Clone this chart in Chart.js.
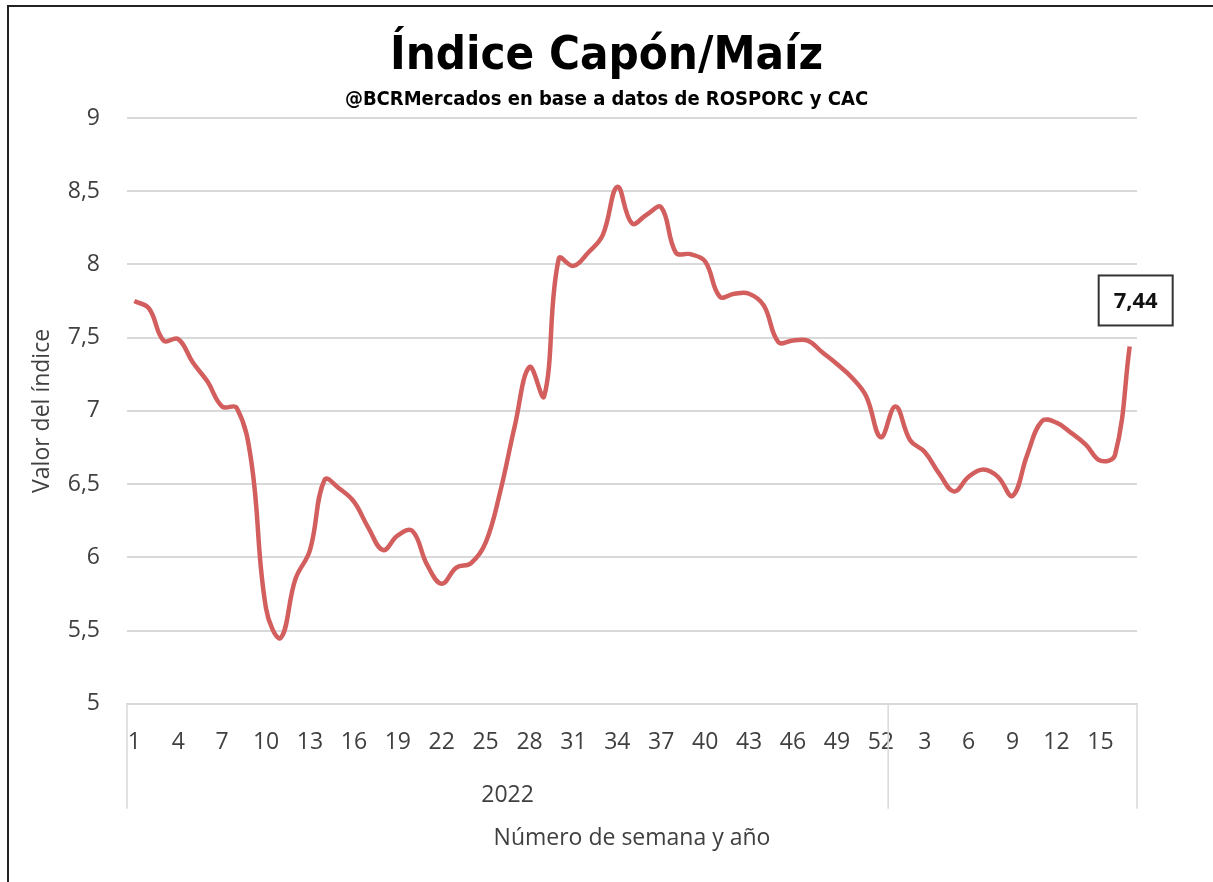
<!DOCTYPE html>
<html>
<head>
<meta charset="utf-8">
<script src="https://cdn.jsdelivr.net/npm/chart.js@4.4.1/dist/chart.umd.min.js"></script>
<style>
  html, body { margin: 0; padding: 0; background: #fff; }
  #wrap { position: relative; width: 1213px; height: 882px; }
  #frame {
    position: absolute; left: 7px; top: 5px; width: 1206px; height: 877px;
    border-left: 2px solid #222; border-top: 2px solid #222;
    box-sizing: border-box; pointer-events: none;
  }
</style>
</head>
<body>
<div id="wrap">
  <canvas id="chart" width="1213" height="882"></canvas>
  <div id="frame"></div>
</div>
<script>
// ============================================
// DATA
// ============================================

const years = ['2022', '2023'];
const weeksPerYear = [52, 17];
const yearLabels = ['2022', ''];

// Índice Capón/Maíz, 2022 semanas 1-52
const values2022 = [
  7.75, 7.70, 7.48, 7.49, 7.33, 7.20, 7.03, 7.02, 6.65, 5.65,
  5.45, 5.85, 6.05, 6.53, 6.47, 6.38, 6.20, 6.05, 6.15, 6.18,
  5.95, 5.82, 5.93, 5.96, 6.10, 6.45, 6.90, 7.30, 7.10, 8.04,
  7.99, 8.08, 8.20, 8.53, 8.28, 8.34, 8.39, 8.08, 8.07, 8.02,
  7.78, 7.80, 7.80, 7.72, 7.47, 7.48, 7.48, 7.40, 7.32, 7.23,
  7.10, 6.82
];

// 2023 semanas 1-17
const values2023 = [
  7.03, 6.80, 6.72, 6.57, 6.45, 6.55, 6.60, 6.55, 6.42, 6.70,
  6.93, 6.92, 6.85, 6.77, 6.66, 6.70, 7.44
];

const yTicks = [5, 5.5, 6, 6.5, 7, 7.5, 8, 8.5, 9];

// ============================================
// CHART
// ============================================

const LINE_COLOR = '#D35E5E';
const TEXT_COLOR = '#404040';
const GRID_COLOR = '#d9d9d9';
const AXIS_FONT = 'Open Sans';
const AXIS_SIZE = 23;
const TITLE_FONT = '"DejaVu Sans Condensed", "Liberation Sans Narrow", "Roboto Condensed", "Arial Narrow", sans-serif';

const weekLabels = [];
weeksPerYear.forEach(n => {
  for (let w = 1; w <= n; w++) weekLabels.push(String(w));
});
const values = values2022.concat(values2023);

const fmt = v => String(v).replace('.', ',');

// year row under the week ticks, like a multi-level category axis
const yearGroups = {
  id: 'yearGroups',
  afterDraw(chart) {
    const { ctx, chartArea } = chart;
    const x = chart.scales.x;
    const top = chartArea.bottom;
    const bottom = top + 105;
    let start = 0;
    const bounds = [chartArea.left];
    weeksPerYear.forEach((n, i) => {
      const end = start + n - 1;
      const right = i === weeksPerYear.length - 1
        ? chartArea.right
        : (x.getPixelForValue(end) + x.getPixelForValue(end + 1)) / 2;
      bounds.push(right);
      start += n;
    });

    ctx.save();
    ctx.strokeStyle = GRID_COLOR;
    ctx.lineWidth = 1.5;
    bounds.forEach(bx => {
      ctx.beginPath();
      ctx.moveTo(bx, top);
      ctx.lineTo(bx, bottom);
      ctx.stroke();
    });
    ctx.fillStyle = TEXT_COLOR;
    ctx.font = AXIS_SIZE + 'px "' + AXIS_FONT + '"';
    ctx.textAlign = 'center';
    ctx.textBaseline = 'middle';
    yearLabels.forEach((lbl, i) => {
      if (!lbl) return;
      ctx.fillText(lbl, (bounds[i] + bounds[i + 1]) / 2, top + 92);
    });
    ctx.restore();
  }
};

// boxed label on the last value
const lastLabel = {
  id: 'lastLabel',
  afterDatasetsDraw(chart) {
    const { ctx } = chart;
    const meta = chart.getDatasetMeta(0);
    const pt = meta.data[meta.data.length - 1];
    const text = fmt(values[values.length - 1]);
    const cx = pt.x + 6;
    const cy = pt.y - 46;
    const w = 74, h = 50;
    ctx.save();
    ctx.fillStyle = '#fff';
    ctx.fillRect(cx - w / 2, cy - h / 2, w, h);
    ctx.strokeStyle = '#333';
    ctx.lineWidth = 2;
    ctx.strokeRect(cx - w / 2, cy - h / 2, w, h);
    ctx.fillStyle = '#111';
    ctx.font = 'bold 22px "' + AXIS_FONT + '"';
    ctx.textAlign = 'center';
    ctx.textBaseline = 'middle';
    ctx.fillText(text, cx, cy + 1);
    ctx.restore();
  }
};

const chart = new Chart(document.getElementById('chart'), {
  type: 'line',
  data: {
    labels: weekLabels,
    datasets: [{
      label: 'Índice Capón/Maíz',
      data: values,
      borderColor: LINE_COLOR,
      borderWidth: 4.5,
      pointRadius: 0,
      tension: 0.4,
      fill: false
    }]
  },
  options: {
    responsive: false,
    animation: false,
    layout: { padding: { top: 0, right: 0, bottom: 30, left: 0 } },
    plugins: {
      legend: { display: false },
      tooltip: { enabled: false },
      title: {
        display: true,
        text: 'Índice Capón/Maíz',
        color: '#000',
        font: { family: TITLE_FONT, size: 47, weight: 'bold', lineHeight: 1 },
        padding: { top: 33, bottom: 0 }
      },
      subtitle: {
        display: true,
        text: '@BCRMercados en base a datos de ROSPORC y CAC',
        color: '#000',
        font: { family: TITLE_FONT, size: 20, weight: 'bold', lineHeight: 1 },
        padding: { top: 10, bottom: 8 }
      }
    },
    scales: {
      x: {
        offset: true,
        grid: { display: false, drawTicks: false },
        border: { display: true, color: GRID_COLOR, width: 1.5 },
        ticks: {
          autoSkip: false,
          maxRotation: 0,
          padding: 25,
          color: TEXT_COLOR,
          font: { family: AXIS_FONT, size: AXIS_SIZE },
          callback: (v, i) => (i % 3 === 0 ? weekLabels[i] : '')
        },
        title: {
          display: true,
          text: 'Número de semana y año',
          color: TEXT_COLOR,
          font: { family: AXIS_FONT, size: AXIS_SIZE, lineHeight: 1.2 },
          padding: { top: 43, bottom: 0 }
        }
      },
      y: {
        min: 5,
        max: 9,
        afterFit(scale) { scale.width = 127; },
        afterBuildTicks(scale) { scale.ticks = yTicks.map(v => ({ value: v })); },
        grid: { color: GRID_COLOR, lineWidth: 2, drawTicks: false },
        border: { display: false },
        ticks: {
          padding: 27,
          color: TEXT_COLOR,
          font: { family: AXIS_FONT, size: AXIS_SIZE },
          callback: v => fmt(v)
        },
        title: {
          display: true,
          text: 'Valor del índice',
          color: TEXT_COLOR,
          font: { family: AXIS_FONT, size: AXIS_SIZE, lineHeight: 1.2 },
          padding: { top: 29, bottom: 0 }
        }
      },
      // empty right margin, room for the value box
      yRight: {
        position: 'right',
        min: 5,
        max: 9,
        afterFit(scale) { scale.width = 76; },
        grid: { display: false, drawTicks: false },
        border: { display: false },
        ticks: { display: false }
      }
    }
  },
  plugins: [yearGroups, lastLabel]
});
</script>
</body>
</html>
